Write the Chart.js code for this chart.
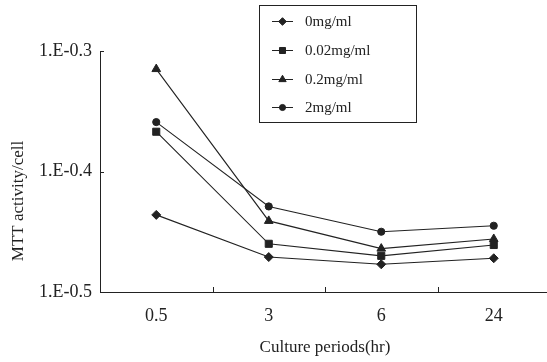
<!DOCTYPE html>
<html>
<head>
<meta charset="utf-8">
<script src="https://cdn.jsdelivr.net/npm/chart.js@4/dist/chart.umd.min.js"></script>
<style>
  html, body { margin: 0; padding: 0; background: #fff; overflow: hidden; }
  #wrap { width: 547px; height: 362px; overflow: hidden; }
</style>
</head>
<body>
<div id="wrap"><canvas id="c" width="556" height="362"></canvas></div>
<script>
// Culture periods (hr)
const periods = ['0.5', '3', '6', '24'];

// MTT activity per cell (log scale exponent) for each concentration
const dose0 = [-0.436, -0.471, -0.477, -0.472];
const dose002 = [-0.367, -0.460, -0.470, -0.461];
const dose02 = [-0.315, -0.441, -0.464, -0.456];
const dose2 = [-0.359, -0.429, -0.450, -0.445];

const seriesNames = ['0mg/ml', '0.02mg/ml', '0.2mg/ml', '2mg/ml'];
const yTicks = [-0.5, -0.4, -0.3];

const FONT = '"Liberation Serif", "Times New Roman", serif';
const INK = '#222';

function series(label, data, style, radius) {
  return {
    label, data,
    borderColor: INK, backgroundColor: INK,
    borderWidth: 1.1,
    pointStyle: style, pointRadius: radius, pointHoverRadius: radius,
    pointBackgroundColor: INK, pointBorderColor: INK, pointBorderWidth: 1,
    tension: 0
  };
}

// Inside tick marks on both axes, the rotated y title and the boxed legend
const decor = {
  id: 'decor',
  afterDraw(chart) {
    const ctx = chart.ctx;
    const a = chart.chartArea;
    const xs = chart.scales.x, ys = chart.scales.y;
    ctx.save();
    ctx.strokeStyle = INK;
    ctx.lineWidth = 1;
    ctx.beginPath();
    for (let i = 0; i < periods.length - 1; i++) {
      const px = Math.round((xs.getPixelForValue(i) + xs.getPixelForValue(i + 1)) / 2) + 0.5;
      ctx.moveTo(px, a.bottom);
      ctx.lineTo(px, a.bottom - 5);
    }
    yTicks.forEach(v => {
      if (v === ys.min) return;
      const py = Math.round(ys.getPixelForValue(v)) + 0.5;
      ctx.moveTo(a.left, py);
      ctx.lineTo(a.left + 4, py);
    });
    ctx.stroke();

    // y axis title
    ctx.fillStyle = INK;
    ctx.font = '17px ' + FONT;
    ctx.textAlign = 'center';
    ctx.textBaseline = 'middle';
    ctx.translate(19, 201);
    ctx.rotate(-Math.PI / 2);
    ctx.fillText('MTT activity/cell', 0, 0);
    ctx.restore();

    // legend box
    ctx.save();
    const bx = 259.5, by = 5.5, bw = 157, bh = 117;
    ctx.fillStyle = '#fff';
    ctx.fillRect(bx, by, bw, bh);
    ctx.strokeStyle = INK;
    ctx.lineWidth = 1;
    ctx.strokeRect(bx, by, bw, bh);
    const rowY = [21, 50, 79, 107];
    ctx.font = '15px ' + FONT;
    ctx.textAlign = 'left';
    ctx.textBaseline = 'middle';
    chart.data.datasets.forEach((ds, i) => {
      const y = rowY[i];
      ctx.beginPath();
      ctx.moveTo(272, y + 0.5);
      ctx.lineTo(293, y + 0.5);
      ctx.stroke();
      ctx.fillStyle = INK;
      Chart.helpers.drawPoint(ctx, {
        pointStyle: ds.pointStyle, radius: ds.pointRadius * 0.85, rotation: 0, borderWidth: 1
      }, 282.5, y + 0.5);
      ctx.fillStyle = INK;
      ctx.fillText(ds.label, 305, y + 1);
    });
    ctx.restore();
  }
};

new Chart(document.getElementById('c'), {
  type: 'line',
  data: {
    labels: periods,
    datasets: [
      series(seriesNames[0], dose0, 'rectRot', 4.5),
      series(seriesNames[1], dose002, 'rect', 5),
      series(seriesNames[2], dose02, 'triangle', 5),
      series(seriesNames[3], dose2, 'circle', 3.6)
    ]
  },
  options: {
    responsive: false,
    animation: false,
    devicePixelRatio: 1,
    layout: { padding: { top: 51, right: 0, left: 0, bottom: 0 } },
    plugins: { legend: { display: false }, tooltip: { enabled: false } },
    scales: {
      x: {
        type: 'category',
        offset: true,
        grid: { display: false, drawTicks: false },
        border: { display: true, color: INK, width: 1 },
        ticks: { color: INK, padding: 13, font: { family: FONT, size: 18 } },
        title: {
          display: true, text: 'Culture periods(hr)', color: INK,
          font: { family: FONT, size: 17 }, padding: { top: 0, bottom: 4 }
        },
        afterFit(s) { s.height = 70; }
      },
      y: {
        min: -0.5, max: -0.3,
        grid: { display: false, drawTicks: false },
        border: { display: true, color: INK, width: 1 },
        afterBuildTicks(s) { s.ticks = yTicks.map(v => ({ value: v })); },
        ticks: {
          color: INK, padding: 8, font: { family: FONT, size: 18 },
          callback: v => '1.E' + Number(v).toFixed(1)
        },
        afterFit(s) { s.width = 100; }
      }
    }
  },
  plugins: [decor]
});
</script>
</body>
</html>
